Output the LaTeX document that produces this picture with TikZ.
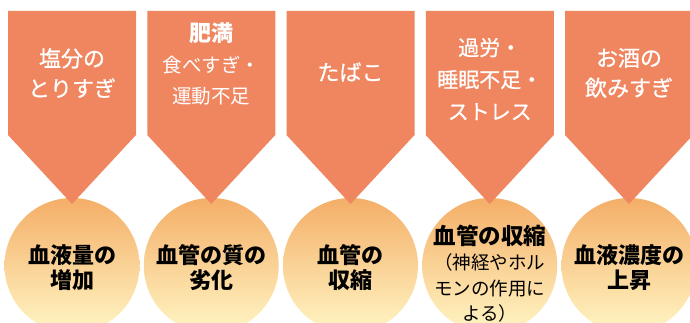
\documentclass[tikz,border=0pt]{standalone}
\usepackage{fontspec}
\newfontfamily\jp{Noto Sans CJK JP}
\newfontfamily\jpm{Noto Sans CJK JP}[FakeBold=0.7]
\definecolor{arrowc}{HTML}{EF8660}
\definecolor{circtop}{HTML}{F4AE68}
\definecolor{circmid}{HTML}{FAD796}
\definecolor{circbot}{HTML}{FFF6C4}
\tikzset{
  toptext/.style={text=white, align=center, inner sep=0pt, font=\jpm\fontsize{22}{30}\selectfont},
  circtext/.style={text=black, align=center, inner sep=0pt, font=\jp\bfseries\fontsize{22}{25}\selectfont},
}
\begin{document}
\begin{tikzpicture}[x=1pt,y=1pt]
\useasboundingbox (0,0) rectangle (690,323);
\clip (0,0) rectangle (690,323);
\foreach \cx [count=\i] in {72,211.25,350.5,489.75,629}{
  \shade[top color=circtop, middle color=circmid, bottom color=circbot] (\cx,57.5) circle[radius=67.5];
  \fill[arrowc] (\cx-64,312) -- (\cx+64,312) -- (\cx+64,188) -- (\cx,119) -- (\cx-64,188) -- cycle;
}
% top labels
\node[toptext] (t1) at (72,250) {塩分の\\とりすぎ};
\node[toptext, font=\jp\fontsize{19.5}{31}\selectfont] (t2) at (211.25,259) {{\bfseries\fontsize{22}{31}\selectfont 肥満}\\食べすぎ・\\運動不足};
\node[toptext] (t3) at (350.5,251) {たばこ};
\node[toptext, font=\jpm\fontsize{21}{32}\selectfont] (t4) at (489.75,244) {過労・\\睡眠不足・\\ストレス};
\node[toptext] (t5) at (629,250) {お酒の\\飲みすぎ};
% circle labels
\node[circtext] (c1) at (72,55.5) {血液量の\\増加};
\node[circtext] (c2) at (211.25,55.5) {血管の質の\\劣化};
\node[circtext] (c3) at (350.5,55.5) {血管の\\収縮};
\node[circtext, font=\jp\fontsize{18.5}{25.5}\selectfont] (c4) at (489.75,49.5) {{\bfseries\fontsize{22.5}{26}\selectfont 血管の収縮}\\（神経やホル\\モンの作用に\\よる）};
\node[circtext] (c5) at (629,55.5) {血液濃度の\\上昇};
\end{tikzpicture}
\end{document}
